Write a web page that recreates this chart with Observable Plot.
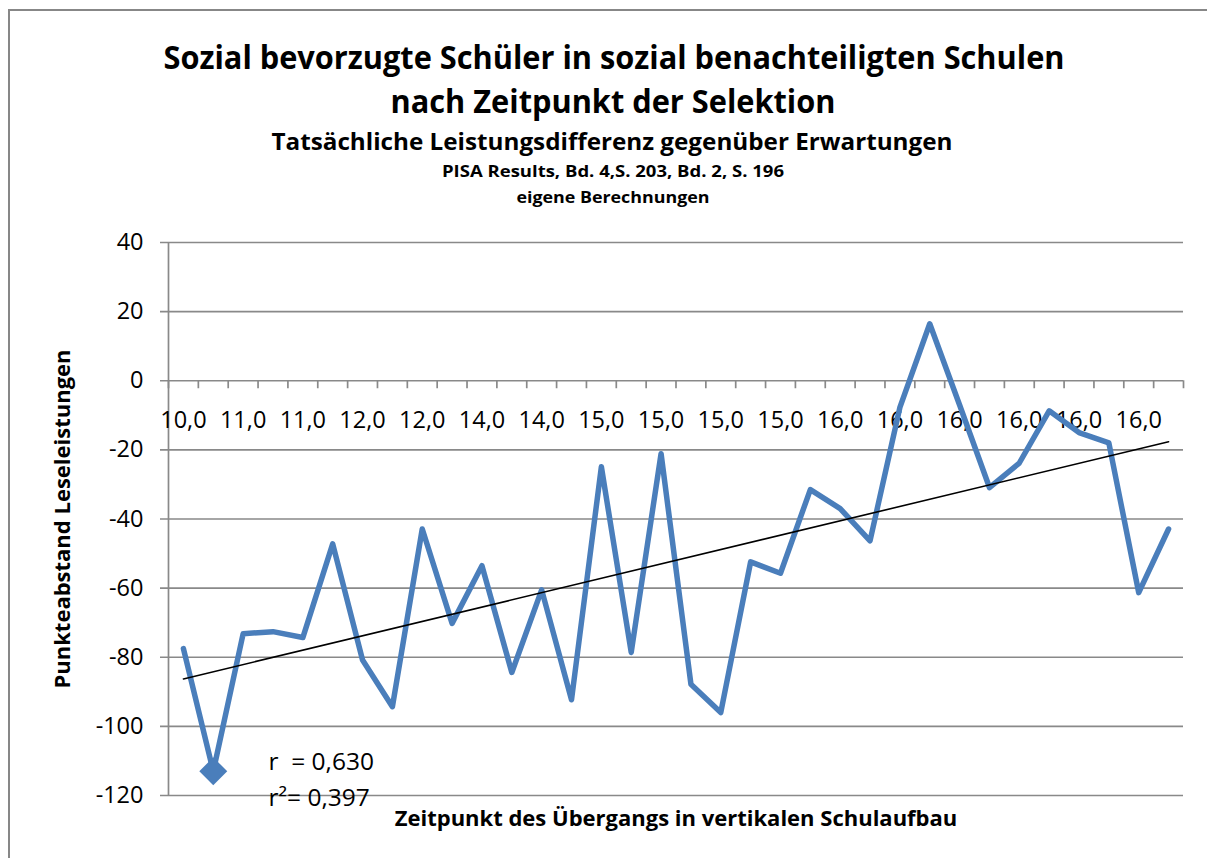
<!DOCTYPE html>
<html><head><meta charset="utf-8">
<script src="https://cdn.jsdelivr.net/npm/d3@7"></script>
<script src="https://cdn.jsdelivr.net/npm/@observablehq/plot@0.6"></script>
<style>
html,body{margin:0;padding:0;background:#fff;overflow:hidden;}
#wrap{position:relative;width:1207px;height:858px;overflow:hidden;font-family:"Open Sans",sans-serif;}
#frame{position:absolute;left:8px;top:9px;width:1400px;height:1000px;border-left:2px solid #878787;border-top:2px solid #878787;box-sizing:border-box;}
#head{position:relative;height:220px;}
.t{position:absolute;white-space:nowrap;font-weight:bold;line-height:1;color:#000;left:0;top:0;}
#chart{position:relative;}
</style></head><body>
<div id="wrap"><div id="frame"></div><div id="head"></div><div id="chart"></div></div>
<script>
// ---- data ----
const titleTexts = [
  "Sozial bevorzugte Schüler in sozial benachteiligten Schulen",
  "nach Zeitpunkt der Selektion",
  "Tatsächliche Leistungsdifferenz gegenüber Erwartungen",
  "PISA Results, Bd. 4,S. 203, Bd. 2, S. 196",
  "eigene Berechnungen"
];
const xTitle = "Zeitpunkt des Übergangs in vertikalen Schulaufbau";
const yTitle = "Punkteabstand Leseleistungen";
// shown category labels (every second category)
const catLabels = ["10,0","11,0","11,0","12,0","12,0","14,0","14,0","15,0","15,0","15,0","15,0","16,0","16,0","16,0","16,0","16,0","16,0"];
const values = [-77.5,-113,-73.2,-72.6,-74.3,-47.2,-80.8,-94.3,-42.9,-70.2,
                -53.5,-84.4,-60.5,-92.3,-24.9,-78.6,-21.1,-87.8,-96,-52.4,
                -55.7,-31.5,-37,-46.3,-7.7,16.5,-7,-30.9,-23.8,-8.7,
                -15,-18,-61.3,-42.9];
const highlightIndex = [1];
const highlightValue = [-113];
const yTicks = [-120,-100,-80,-60,-40,-20,0,20,40];
const statLabels = ["r\u00a0\u00a0= 0,630", "r²= 0,397"];

// ---- layout (not data) ----
const labelStep = 2;
const titleLayout = [
  {size: 33, width: 901, cx: 614, cy: 56},
  {size: 33, width: 445, cx: 613, cy: 100},
  {size: 24, width: 681, cx: 612, cy: 141},
  {size: 16.5, width: 342, cx: 613, cy: 171},
  {size: 16.5, width: 193, cx: 613, cy: 197}
];
const head = document.getElementById("head");
titleTexts.forEach((txt, i) => {
  const L = titleLayout[i];
  const el = document.createElement("div");
  el.className = "t";
  el.textContent = txt;
  el.style.fontSize = L.size + "px";
  head.appendChild(el);
  const w = el.getBoundingClientRect().width;
  el.style.left = L.cx + "px";
  el.style.top = L.cy + "px";
  el.style.transform = `translate(-50%,-50%) scaleX(${L.width / w})`;
});

const blue = "#4A7EBB", gray = "#898989";
const highlight = highlightIndex.map((d, i) => ({index: d, value: highlightValue[i]}));
const bounds = d3.range(values.length + 1).map(i => i - 0.5);

const chart = Plot.plot({
  width: 1207, height: 638,
  marginTop: 22, marginBottom: 63, marginLeft: 168, marginRight: 24,
  style: {fontFamily: '"Open Sans", sans-serif', background: "transparent", overflow: "visible", color: "#000"},
  x: {type: "linear", domain: [-0.5, values.length - 0.5], axis: null},
  y: {domain: [yTicks[0], yTicks[yTicks.length - 1]], axis: null},
  marks: [
    Plot.ruleY(yTicks, {stroke: gray, strokeWidth: 1.7, insetLeft: -8}),
    Plot.ruleX([-0.5], {stroke: gray, strokeWidth: 1.7}),
    Plot.ruleX(bounds, {x: d => d, y1: 0, y2: 0, insetBottom: -8, stroke: gray, strokeWidth: 1.7}),
    Plot.axisY(yTicks, {tickSize: 0, tickPadding: 25, tickFormat: d => String(d), fontSize: 23.5, label: null}),
    Plot.text(catLabels, {x: (d, i) => i * labelStep, y: 0, text: d => d, dy: 40, fontSize: 23.5}),
    Plot.line(values, {x: (d, i) => i, y: d => d, stroke: blue, strokeWidth: 5.5, strokeLinejoin: "round", strokeLinecap: "round"}),
    Plot.linearRegressionY(values, {x: (d, i) => i, y: d => d, stroke: "#000", strokeWidth: 1.6, ci: 0}),
    Plot.dot(highlight, {x: "index", y: "value", symbol: "diamond2", r: 12.6, fill: blue, stroke: null}),
    Plot.text([statLabels[0]], {frameAnchor: "bottom-left", dx: 100, dy: -33, textAnchor: "start", lineAnchor: "middle", fontSize: 24.5}),
    Plot.text([statLabels[1]], {frameAnchor: "bottom-left", dx: 100, dy: 3, textAnchor: "start", lineAnchor: "middle", fontSize: 24.5}),
    Plot.text([xTitle], {frameAnchor: "bottom", dy: 23, textAnchor: "middle", lineAnchor: "middle", fontWeight: "bold", fontSize: 22}),
    Plot.text([yTitle], {frameAnchor: "left", dx: -106, rotate: -90, textAnchor: "middle", lineAnchor: "middle", fontWeight: "bold", fontSize: 22})
  ]
});
document.getElementById("chart").appendChild(chart);
</script>
</body></html>
